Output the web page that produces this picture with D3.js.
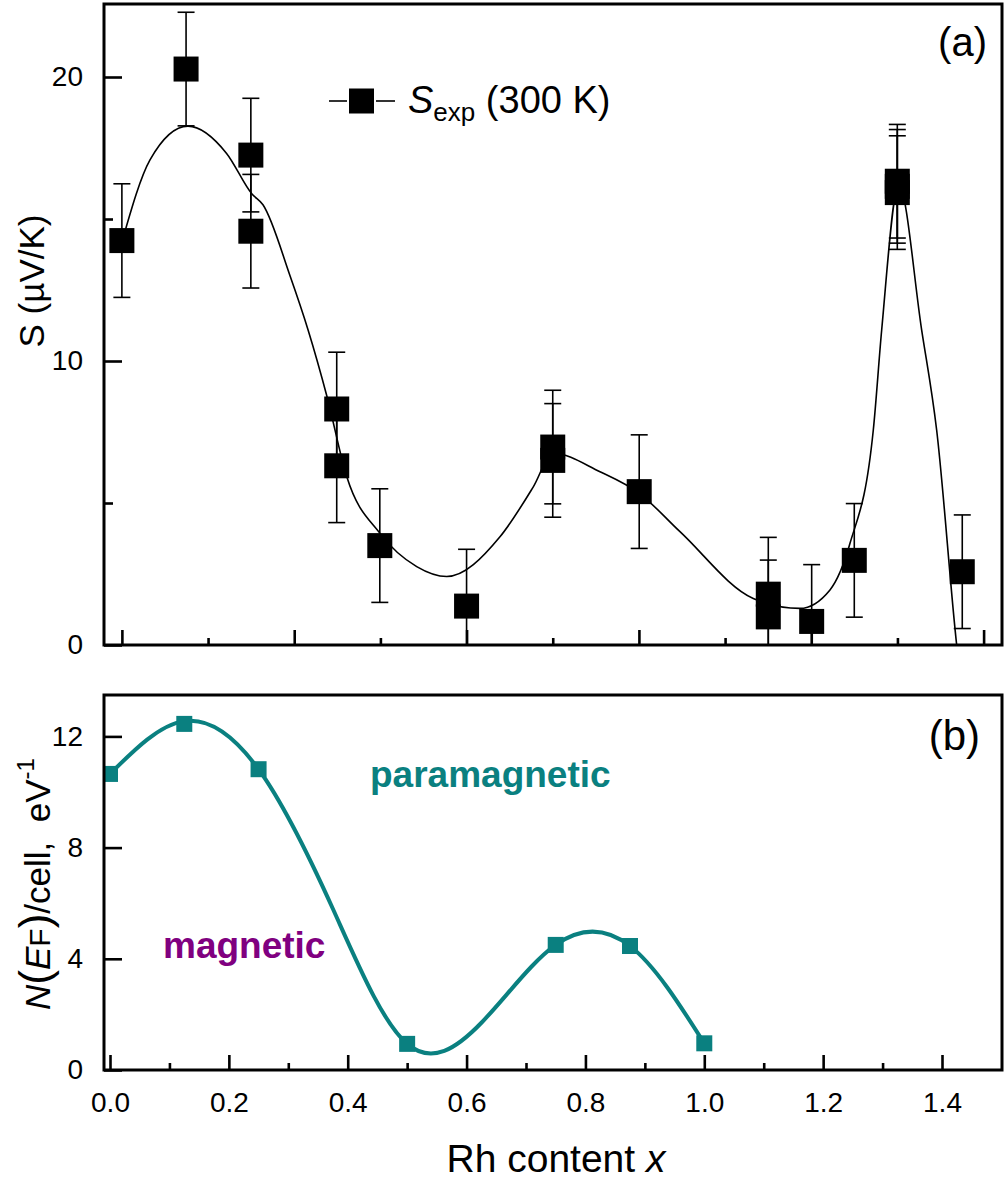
<!DOCTYPE html>
<html><head><meta charset="utf-8">
<script src="https://cdn.jsdelivr.net/npm/d3@7"></script>
<style>body{margin:0;background:#fff} text{font-family:"Liberation Sans",Arial,Helvetica,sans-serif}</style>
</head><body><svg id="c" width="1007" height="1184"></svg>
<script>
// ---------- Panel (a): Seebeck coefficient ----------
const sX   = [0.020,0.128,0.237,0.237,0.3815,0.3815,0.454,0.600,0.745,0.745,0.8905,1.1077,1.1077,1.1807,1.2524,1.3248,1.3248,1.3248,1.4341];
const sVal = [14.24,20.28,17.25,14.57,8.31,6.31,3.50,1.37,6.97,6.50,5.40,1.79,0.99,0.83,2.98,16.33,16.15,15.93,2.58];
const sErr = [2,2,2,2,2,2,2,2,2,2,2,2,2,2,2,2,2,2,2];
// guide curve of panel (a)
const sFitX = [0.0202,0.0673,0.1312,0.1962,0.2389,0.2574,0.3029,0.3332,0.3652,0.3983,0.4543,0.5161,0.5666,0.6562,0.7123,0.7454,0.8245,0.8906,0.9591,1.0824,1.1610,1.2115,1.2452,1.2844,1.2985,1.3271,1.3658,1.3910,1.4247,1.4387];
const sFitY = [14.2,17.08,18.27,17.31,15.88,15.5,13.0,11.1,8.74,5.93,3.93,2.76,2.41,3.81,5.57,6.75,6.10,5.34,3.99,1.64,1.29,1.94,3.58,7.57,11.09,16.2,11.09,7.57,0.0,-2.5];
const topXMajor = [0.020,0.310,0.600,0.890,1.180,1.470];
const topXMinor = [0.165,0.455,0.745,1.035,1.325];
const topYMajor = [0,10,20];
const topYMinor = [5,15];

// ---------- Panel (b): DOS at Fermi level ----------
const rhX = [0,0.125,0.25,0.5,0.75,0.875,1.0];
const nef = [10.65,12.45,10.82,0.94,4.50,4.46,0.96];
// guide curve of panel (b) at even steps of x
const nefFitX = [0,0.125,0.25,0.375,0.5,0.625,0.75,0.875,1.0];
const nefFitY = [10.65,12.55,10.82,5.8,0.94,1.7,4.5,4.46,0.96];
const botXMajor = [0,0.2,0.4,0.6,0.8,1.0,1.2,1.4];
const botXMinor = [0.1,0.3,0.5,0.7,0.9,1.1,1.3];
const botYMajor = [0,4,8,12];

const svg = d3.select("#c");
const L = 104, R = 1002;
const aTop = 4, aBot = 645, bTop = 695, bBot = 1070;
const teal = "#0a8080", purple = "#800080";

const x = d3.scaleLinear().domain([0, 1.4]).range([110, 942]);
const yA = d3.scaleLinear().domain([0, 20]).range([645, 77]);
const yB = d3.scaleLinear().domain([0, 12]).range([1070, 736.4]);

const defs = svg.append("defs");
defs.append("clipPath").attr("id","clipA").append("rect").attr("x",L).attr("y",aTop).attr("width",R-L).attr("height",aBot-aTop);
defs.append("clipPath").attr("id","clipB").append("rect").attr("x",L).attr("y",bTop).attr("width",R-L).attr("height",bBot-bTop);

function styleAxis(g, w){
  g.select(".domain").remove();
  g.selectAll(".tick line").attr("stroke","#000").attr("stroke-width",w);
  g.selectAll(".tick text").attr("font-size",28).attr("fill","#000")
   .style("font-family",'"Liberation Sans",Arial,sans-serif');
}

// ---- Panel (a) ----
const gA = svg.append("g");
const pA = gA.append("g").attr("clip-path","url(#clipA)");
sX.forEach((v,i)=>{
  const cx = x(v), y1 = yA(sVal[i]+sErr[i]), y2 = yA(sVal[i]-sErr[i]);
  pA.append("line").attr("x1",cx).attr("x2",cx).attr("y1",y1).attr("y2",y2).attr("stroke","#000").attr("stroke-width",1.6);
  [y1,y2].forEach(yy=>pA.append("line").attr("x1",cx-8.5).attr("x2",cx+8.5).attr("y1",yy).attr("y2",yy).attr("stroke","#000").attr("stroke-width",1.6));
});
pA.append("path").datum(sFitX.map((v,i)=>[v,sFitY[i]]))
  .attr("d", d3.line().x(d=>x(d[0])).y(d=>yA(d[1])).curve(d3.curveMonotoneX))
  .attr("fill","none").attr("stroke","#000").attr("stroke-width",1.6);
pA.selectAll("rect.m").data(sX.map((v,i)=>[v,sVal[i]])).join("rect")
  .attr("x",d=>x(d[0])-12.5).attr("y",d=>yA(d[1])-12.5).attr("width",25).attr("height",25).attr("fill","#000");

const axAL = gA.append("g").attr("transform",`translate(${L},0)`)
  .call(d3.axisLeft(yA).tickValues(topYMajor).tickSizeInner(-18).tickSizeOuter(0).tickPadding(21).tickFormat(d3.format("d")));
styleAxis(axAL, 2.6);
const axALm = gA.append("g").attr("transform",`translate(${L},0)`)
  .call(d3.axisLeft(yA).tickValues(topYMinor).tickSizeInner(-9).tickSizeOuter(0).tickFormat(""));
styleAxis(axALm, 2.6);
const axAB = gA.append("g").attr("transform",`translate(0,${aBot})`)
  .call(d3.axisBottom(x).tickValues(topXMajor).tickSizeInner(-15).tickSizeOuter(0).tickFormat(""));
styleAxis(axAB, 2.6);
const axABm = gA.append("g").attr("transform",`translate(0,${aBot})`)
  .call(d3.axisBottom(x).tickValues(topXMinor).tickSizeInner(-7).tickSizeOuter(0).tickFormat(""));
styleAxis(axABm, 2.6);
gA.append("rect").attr("x",L).attr("y",aTop).attr("width",R-L).attr("height",aBot-aTop)
  .attr("fill","none").attr("stroke","#000").attr("stroke-width",3);

const tA = gA.append("text").attr("transform","translate(44,281) rotate(-90)")
  .attr("text-anchor","middle").attr("font-size",35).attr("fill","#000");
tA.append("tspan").text("S");
tA.append("tspan").text(" (\u00B5V/K)");

gA.append("text").attr("x",987).attr("y",56).attr("text-anchor","end").attr("font-size",40).text("(a)");

// legend
gA.append("line").attr("x1",329).attr("x2",347).attr("y1",101).attr("y2",101).attr("stroke","#000").attr("stroke-width",1.6);
gA.append("line").attr("x1",376).attr("x2",395).attr("y1",101).attr("y2",101).attr("stroke","#000").attr("stroke-width",1.6);
gA.append("rect").attr("x",349).attr("y",88.5).attr("width",25).attr("height",25).attr("fill","#000");
const lg = gA.append("text").attr("x",408).attr("y",113).attr("font-size",38).attr("fill","#000");
lg.append("tspan").attr("font-style","italic").text("S");
lg.append("tspan").attr("font-size",26).attr("dy",8).text("exp");
lg.append("tspan").attr("dy",-8).text(" (300 K)");

// ---- Panel (b) ----
const gB = svg.append("g");
const pB = gB.append("g").attr("clip-path","url(#clipB)");
pB.append("path").datum(nefFitX.map((v,i)=>[v,nefFitY[i]]))
  .attr("d", d3.line().x(d=>x(d[0])).y(d=>yB(d[1])).curve(d3.curveNatural))
  .attr("fill","none").attr("stroke",teal).attr("stroke-width",4);
pB.selectAll("rect.n").data(rhX.map((v,i)=>[v,nef[i]])).join("rect")
  .attr("x",d=>x(d[0])-8).attr("y",d=>yB(d[1])-8).attr("width",16).attr("height",16).attr("fill",teal);

const axBL = gB.append("g").attr("transform",`translate(${L},0)`)
  .call(d3.axisLeft(yB).tickValues(botYMajor).tickSizeInner(-18).tickSizeOuter(0).tickPadding(21).tickFormat(d3.format("d")));
styleAxis(axBL, 2.6);
const axBB = gB.append("g").attr("transform",`translate(0,${bBot})`)
  .call(d3.axisBottom(x).tickValues(botXMajor).tickSizeInner(-15).tickSizeOuter(0).tickPadding(22).tickFormat(d3.format(".1f")));
styleAxis(axBB, 2.6);
const axBBm = gB.append("g").attr("transform",`translate(0,${bBot})`)
  .call(d3.axisBottom(x).tickValues(botXMinor).tickSizeInner(-7).tickSizeOuter(0).tickFormat(""));
styleAxis(axBBm, 2.6);
gB.append("rect").attr("x",L).attr("y",bTop).attr("width",R-L).attr("height",bBot-bTop)
  .attr("fill","none").attr("stroke","#000").attr("stroke-width",3);

gB.append("text").attr("x",980).attr("y",750).attr("text-anchor","end").attr("font-size",42).text("(b)");
gB.append("text").attr("x",370).attr("y",787).attr("font-size",37).attr("font-weight","bold").attr("fill",teal).text("paramagnetic");
gB.append("text").attr("x",163).attr("y",958).attr("font-size",37).attr("font-weight","bold").attr("fill",purple).text("magnetic");

const tB = gB.append("text").attr("transform","translate(50,884) rotate(-90)")
  .attr("text-anchor","middle").attr("font-size",35).attr("fill","#000");
tB.append("tspan").attr("font-style","italic").text("N");
tB.append("tspan").attr("font-size",44).text("(");
tB.append("tspan").attr("font-style","italic").text("E");
tB.append("tspan").attr("font-size",30).text("F");
tB.append("tspan").attr("font-size",44).text(")");
tB.append("tspan").text("/cell,\u00A0\u00A0eV");
tB.append("tspan").attr("font-size",24).attr("dy",-16).text("-1");

svg.append("text").attr("x",556).attr("y",1172).attr("text-anchor","middle").attr("font-size",39).attr("fill","#000")
  .call(t=>{t.append("tspan").text("Rh content "); t.append("tspan").attr("font-style","italic").text("x");});
</script></body></html>
